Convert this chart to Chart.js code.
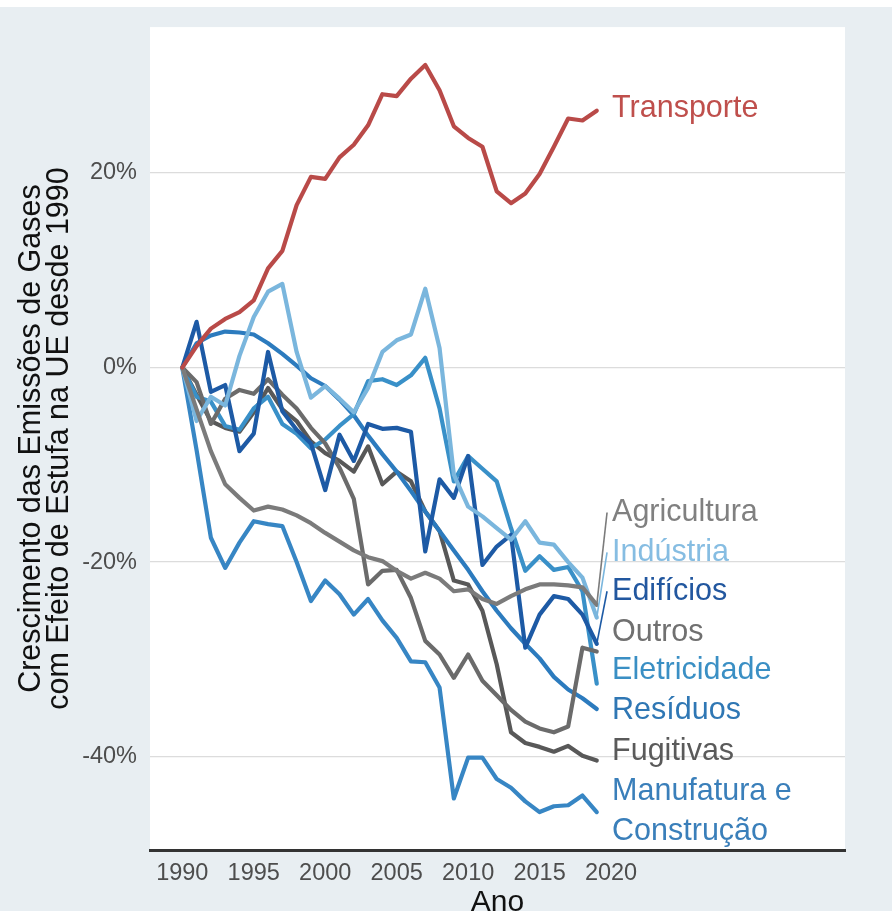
<!DOCTYPE html>
<html><head><meta charset="utf-8">
<script src="https://cdn.jsdelivr.net/npm/chart.js@4.4.1/dist/chart.umd.min.js"></script>
<style>html,body{margin:0;padding:0;background:#fff;overflow:hidden}#wrap{width:892px;height:911px}</style>
</head><body><div id="wrap"><canvas id="c" width="892" height="911"></canvas></div>
<script>
const years = [1990,1991,1992,1993,1994,1995,1996,1997,1998,1999,2000,2001,2002,2003,2004,2005,2006,2007,2008,2009,2010,2011,2012,2013,2014,2015,2016,2017,2018,2019];
const xTickValues = [1990,1995,2000,2005,2010,2015,2020];
const yTickValues = [-40,-20,0,20];

const transporte   = [0,2.2,4.0,5.0,5.7,6.9,10.2,12.0,16.7,19.6,19.4,21.6,22.9,24.9,28.1,27.9,29.7,31.1,28.5,24.8,23.6,22.7,18.1,16.9,17.9,19.9,22.7,25.6,25.4,26.4];
const agricultura  = [0,-4.3,-8.6,-12.0,-13.4,-14.7,-14.3,-14.6,-15.2,-16.0,-17.0,-17.9,-18.8,-19.5,-19.9,-20.9,-21.7,-21.1,-21.7,-23.0,-22.8,-23.8,-24.3,-23.5,-22.8,-22.3,-22.3,-22.4,-22.6,-24.4];
const industria    = [0,-5.5,-3.0,-3.9,1.2,5.2,7.8,8.6,1.6,-3.1,-1.9,-3.2,-4.6,-2.1,1.6,2.8,3.4,8.1,2.0,-11.0,-14.3,-15.3,-16.5,-17.7,-15.8,-18.0,-18.2,-20.0,-21.6,-25.7];
const edificios    = [0,4.7,-2.5,-1.8,-8.6,-6.8,1.6,-4.5,-6.4,-7.8,-12.6,-6.9,-9.6,-5.8,-6.3,-6.2,-6.6,-18.9,-11.5,-13.4,-9.1,-20.3,-18.4,-17.2,-28.8,-25.4,-23.5,-23.8,-25.4,-28.4];
const outros       = [0,-1.5,-5.8,-3.2,-2.3,-2.7,-1.2,-2.8,-4.2,-6.2,-7.8,-10.3,-13.5,-22.3,-20.9,-20.8,-23.7,-28.1,-29.5,-31.9,-29.5,-32.2,-33.7,-35.2,-36.4,-37.1,-37.5,-36.9,-28.8,-29.2];
const eletricidade = [0,-3.0,-3.5,-6.0,-6.4,-4.2,-3.0,-5.8,-6.8,-8.3,-7.4,-6.0,-4.8,-1.4,-1.2,-1.8,-0.8,1.0,-4.2,-11.7,-9.1,-10.4,-11.7,-16.5,-20.9,-19.4,-20.8,-20.5,-23.0,-32.5];
const residuos     = [0,2.5,3.3,3.7,3.6,3.4,2.5,1.4,0.2,-1.1,-1.9,-3.3,-4.9,-7.0,-8.9,-10.7,-12.7,-14.8,-16.8,-18.8,-20.8,-23.0,-25.0,-26.8,-28.4,-29.9,-31.8,-33.1,-34.0,-35.1];
const fugitivas    = [0,-2.8,-5.5,-6.2,-6.6,-4.6,-2.1,-4.3,-5.5,-7.6,-8.8,-9.6,-10.7,-8.1,-12.0,-10.7,-11.7,-14.8,-16.8,-21.9,-22.3,-25.0,-30.5,-37.5,-38.6,-39.0,-39.5,-38.9,-39.9,-40.4];
const manufatura   = [0,-8.5,-17.5,-20.6,-18.0,-15.8,-16.1,-16.3,-20.0,-24.0,-21.9,-23.3,-25.4,-23.8,-26.0,-27.8,-30.2,-30.3,-32.9,-44.3,-40.1,-40.1,-42.3,-43.2,-44.6,-45.7,-45.1,-45.0,-44.0,-45.7];

const seriesNames = ['Transporte','Agricultura','Indústria','Edifícios','Outros','Eletricidade','Resíduos','Fugitivas','Manufatura e\nConstrução'];
const seriesValues = [transporte,agricultura,industria,edificios,outros,eletricidade,residuos,fugitivas,manufatura];
const lineColors  = ['#b94a48','#7b7b7b','#7ab6dd','#1d5aa5','#6b6b6b','#3990c8','#2c7bbe','#585858','#3786c4'];
const labelColors = ['#bf4f4c','#808080','#86bde2','#22579f','#707070','#3a8fc4','#2f77b4','#5a5a5a','#3a7fba'];
// label anchor (value units) and whether a connector segment is drawn
const labelValues = [26.6,-14.9,-19.0,-23.0,-27.2,-31.2,-35.3,-39.5,-43.6];
const labelConnector = [false,true,true,true,false,false,false,false,false];

const FONT = "'Liberation Sans', Arial, Helvetica, sans-serif";

const datasets = seriesNames.map((n,i)=>({
  label:n,
  data: years.map((y,j)=>({x:y,y:seriesValues[i][j]})),
  borderColor: lineColors[i],
  backgroundColor: lineColors[i],
  borderWidth: 4.2,
  pointRadius: 0,
  tension: 0,
  fill: false,
  borderJoinStyle: 'round',
  borderCapStyle: 'round'
}));

const bgPlugin = {
  id:'bg',
  beforeDraw(chart){
    const {ctx, chartArea:a, width, height} = chart;
    ctx.save();
    ctx.fillStyle = '#e8eef2';
    ctx.fillRect(0,0,width,height);
    ctx.fillStyle = '#ffffff';
    ctx.fillRect(0,0,width,7);
    ctx.fillRect(a.left,a.top,a.right-a.left,a.bottom-a.top);
    ctx.restore();
  }
};

const labelPlugin = {
  id:'seriesLabels',
  afterDatasetsDraw(chart){
    const {ctx, scales:{x,y}} = chart;
    const lx = x.getPixelForValue(2020) + 1;
    ctx.save();
    ctx.font = '30.5px ' + FONT;
    ctx.textAlign = 'left';
    ctx.textBaseline = 'middle';
    seriesNames.forEach((n,i)=>{
      const ly = y.getPixelForValue(labelValues[i]);
      if (labelConnector[i]) {
        const last = seriesValues[i].length-1;
        ctx.beginPath();
        ctx.strokeStyle = lineColors[i];
        ctx.lineWidth = 1.6;
        ctx.moveTo(x.getPixelForValue(years[last]), y.getPixelForValue(seriesValues[i][last]));
        ctx.lineTo(lx-5, ly);
        ctx.stroke();
      }
      ctx.fillStyle = labelColors[i];
      n.split('\n').forEach((t,k)=>ctx.fillText(t, lx, ly + k*40));
    });
    ctx.restore();
  }
};

new Chart(document.getElementById('c'), {
  type:'line',
  data:{datasets},
  plugins:[bgPlugin,labelPlugin],
  options:{
    responsive:false,
    animation:false,
    devicePixelRatio:1,
    layout:{padding:{top:25,right:47,bottom:0,left:0}},
    plugins:{legend:{display:false},tooltip:{enabled:false}},
    scales:{
      x:{
        type:'linear',
        min:1987.74, max:2036.37,
        afterBuildTicks(s){ s.ticks = xTickValues.map(v=>({value:v})); },
        afterFit(s){ s.height = 61; },
        grid:{display:false, drawTicks:false},
        border:{display:true,color:'#333333',width:3},
        ticks:{color:'#4d4d4d',font:{family:FONT,size:23.5},padding:9,maxRotation:0,autoSkip:false,callback:v=>String(v)},
        title:{display:true,text:'Ano',color:'#111111',font:{family:FONT,size:30,lineHeight:0.55},padding:{top:0,bottom:0}}
      },
      y:{
        type:'linear',
        min:-49.6, max:35,
        afterBuildTicks(s){ s.ticks = yTickValues.map(v=>({value:v})); },
        afterFit(s){ s.width = 150; },
        grid:{color:'#dcdcdc',lineWidth:1.3,drawTicks:false},
        border:{display:false},
        ticks:{color:'#4d4d4d',font:{family:FONT,size:23.5},padding:13,callback:v=>v+'%'},
        title:{display:true,text:['Crescimento das Emissões de Gases','com Efeito de Estufa na UE desde 1990'],color:'#111111',font:{family:FONT,size:30.5,lineHeight:0.9},padding:{top:18,bottom:0}}
      }
    }
  }
});
</script></body></html>
